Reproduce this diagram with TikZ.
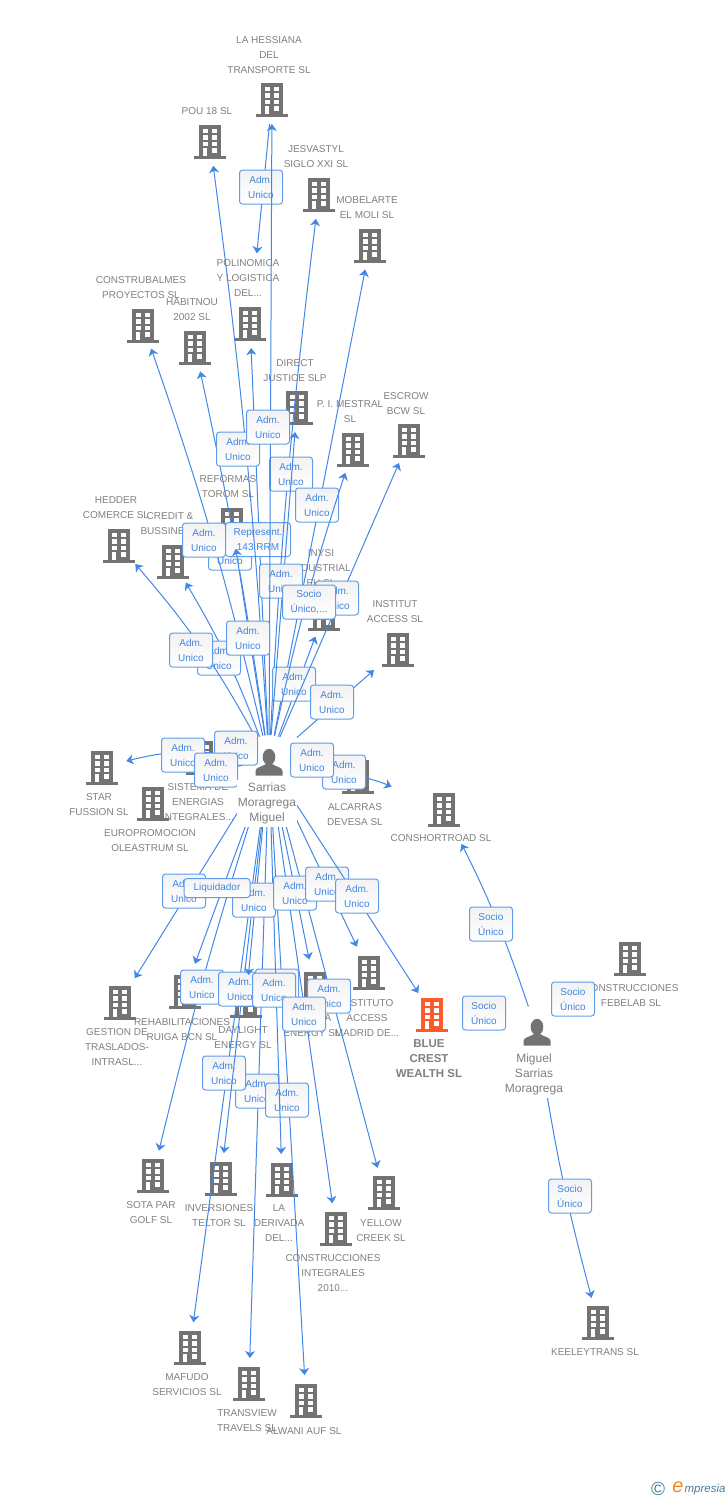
\documentclass[tikz,border=0pt]{standalone}
\usepackage{fontspec}
\setmainfont{Liberation Sans}
\usepackage{tikz}
\usetikzlibrary{arrows.meta}

\definecolor{bldgrey}{HTML}{737373}
\definecolor{txtgrey}{HTML}{808080}
\definecolor{bldorange}{HTML}{FF5A2B}
\definecolor{linkblue}{HTML}{4287E6}
\definecolor{roleblue}{HTML}{3F86E0}
\definecolor{roleedge}{HTML}{5F9DEB}
\definecolor{logoteal}{HTML}{3F7F9A}
\definecolor{logoorange}{HTML}{F08A1D}

\tikzset{
    building/.style={circle, minimum size=50pt, inner sep=0pt, outer sep=0pt, path picture={
        \begin{scope}[shift={(path picture bounding box.center)}]
            \fill[#1] (-11,-16) rectangle (11,15);
            \fill[#1] (-16,15) rectangle (16,18);
            \foreach \wy in {-12,-5.6,1,7.4} {
                \fill[white] (2.3,\wy) rectangle (7.3,\wy+4.4);
            }
            \foreach \wy in {-12,-5.6,1} {
                \fill[white] (-7.3,\wy) rectangle (-2.3,\wy+4.4);
            }
            \fill[white] (-7,7.4) rectangle (-2.6,15);
        \end{scope}
    }},
    building/.default=bldgrey,
    person/.style={circle, minimum size=54pt, inner sep=0pt, outer sep=0pt, path picture={
        \begin{scope}[shift={(path picture bounding box.center)}]
            \fill[bldgrey] (0,-5) ellipse (6.3 and 8.2);
            \fill[bldgrey] (-13.5,13.5) -- (-13.5,9) .. controls (-13.5,5) and (-7,5) .. (-3,2) -- (3,2) .. controls (7,5) and (13.5,5) .. (13.5,9) -- (13.5,13.5) -- cycle;
        \end{scope}
    }},
    company/.style={align=center, text=txtgrey, inner sep=0pt, font=\fontsize{10}{15}\selectfont},
    personname/.style={company, fill=white, inner xsep=1pt, inner ysep=3pt, font=\fontsize{12}{15}\selectfont},
    mainname/.style={company, font=\fontsize{11.5}{15}\selectfont\bfseries},
    role/.style={draw=roleedge, line width=1pt, rounded corners=3pt, top color=black!5, bottom color=white, text=roleblue, align=center, inner sep=0pt, minimum width=43pt, minimum height=34pt, font=\fontsize{10}{15}\selectfont},
    link/.style={draw=linkblue, line width=1pt, -{Stealth[length=7pt,width=10pt,inset=2pt]}},
}

\begin{document}
\begin{tikzpicture}[x=1pt,y=-1pt]
    \useasboundingbox (0,0) rectangle (728,1500);

    \node[company] (hessianatxt) at (269,55) {LA HESSIANA\\DEL\\TRANSPORTE SL};
    \node[company] (poutxt) at (207,111) {POU 18 SL};
    \node[company] (jesvastyltxt) at (316,157) {JESVASTYL\\SIGLO XXI SL};
    \node[company] (mobelartetxt) at (367,208) {MOBELARTE\\EL MOLI SL};
    \node[company] (polinomicatxt) at (248,278) {POLINOMICA\\Y LOGISTICA\\DEL...};
    \node[company] (construbalmestxt) at (141,288) {CONSTRUBALMES\\PROYECTOS SL};
    \node[company] (habitnoutxt) at (192,310) {HABITNOU\\2002 SL};
    \node[company] (directtxt) at (295,371) {DIRECT\\JUSTICE SLP};
    \node[company] (mestraltxt) at (350,412) {P. I. MESTRAL\\SL};
    \node[company] (escrowtxt) at (406,404) {ESCROW\\BCW SL};
    \node[company] (reformastxt) at (228,487) {REFORMAS\\TOROM SL};
    \node[company] (heddertxt) at (116,508) {HEDDER\\COMERCE SL};
    \node[company] (credittxt) at (170,524) {CREDIT \&\\BUSSINES...};
    \node[company] (inysitxt) at (321,568) {INYSI\\INDUSTRIAL\\EH SL};
    \node[company] (instituttxt) at (395,612) {INSTITUT\\ACCESS SL};
    \node[company] (startxt) at (99,805) {STAR\\FUSSION SL};
    \node[company] (sistematxt) at (198,802) {SISTEMA DE\\ENERGIAS\\INTEGRALES...};
    \node[company] (europrotxt) at (150,841) {EUROPROMOCION\\OLEASTRUM SL};
    \node[company] (alcarrastxt) at (355,815) {ALCARRAS\\DEVESA SL};
    \node[company] (conshorttxt) at (441,838) {CONSHORTROAD SL};
    \node[company] (gestiontxt) at (117,1047) {GESTION DE\\TRASLADOS-\\INTRASL...};
    \node[company] (rehabtxt) at (182,1030) {REHABILITACIONES\\RUIGA BCN SL};
    \node[company] (daylighttxt) at (243,1038) {DAYLIGHT\\ENERGY SL};
    \node[company] (aenergytxt) at (312,1026) {\hspace*{32pt}A\\ENERGY SL};
    \node[company] (institutotxt) at (367,1018) {INSTITUTO\\ACCESS\\MADRID DE...};
    \node[company] (febelabtxt) at (631,996) {CONSTRUCCIONES\\FEBELAB SL};
    \node[company] (sotatxt) at (151,1213) {SOTA PAR\\GOLF SL};
    \node[company] (inversionestxt) at (219,1216) {INVERSIONES\\TELTOR SL};
    \node[company] (derivadatxt) at (279,1223) {LA\\DERIVADA\\DEL...};
    \node[company] (yellowtxt) at (381,1231) {YELLOW\\CREEK SL};
    \node[company] (integralestxt) at (333,1273) {CONSTRUCCIONES\\INTEGRALES\\2010...};
    \node[company] (keeleytxt) at (595,1352) {KEELEYTRANS SL};
    \node[company] (mafudotxt) at (187,1385) {MAFUDO\\SERVICIOS SL};
    \node[company] (transviewtxt) at (247,1421) {TRANSVIEW\\TRAVELS SL};
    \node[company] (alwanitxt) at (304,1431) {ALWANI AUF SL};
    \node[mainname] (bluetxt) at (429,1059) {BLUE\\CREST\\WEALTH SL};

    \node[building] (hessiana) at (272,99) {};
    \node[building] (pou) at (210,141) {};
    \node[building] (jesvastyl) at (319,194) {};
    \node[building] (mobelarte) at (370,245) {};
    \node[building] (polinomica) at (250,323) {};
    \node[building] (construbalmes) at (143,325) {};
    \node[building] (habitnou) at (195,347) {};
    \node[building] (direct) at (297,407) {};
    \node[building] (mestral) at (353,449) {};
    \node[building] (escrow) at (409,440) {};
    \node[building] (reformas) at (232,524) {};
    \node[building] (hedder) at (119,545) {};
    \node[building] (credit) at (173,561) {};
    \node[building] (inysi) at (324,613) {};
    \node[building] (institut) at (398,649) {};
    \node[building] (star) at (102,767) {};
    \node[building] (sistema) at (202,757) {};
    \node[building] (europro) at (153,803) {};
    \node[building] (alcarras) at (358,776) {};
    \node[building] (conshort) at (444,809) {};
    \node[building] (gestion) at (120,1002) {};
    \node[building] (rehab) at (185,991) {};
    \node[building] (daylight) at (246,1000) {};
    \node[building] (aenergy) at (315,988) {};
    \node[building] (instituto) at (369,972) {};
    \node[building=bldorange] (blue) at (432,1014) {};
    \node[building] (febelab) at (630,958) {};
    \node[building] (sota) at (153,1175) {};
    \node[building] (inversiones) at (221,1178) {};
    \node[building] (derivada) at (282,1179) {};
    \node[building] (yellow) at (384,1192) {};
    \node[building] (integrales) at (336,1228) {};
    \node[building] (keeley) at (598,1322) {};
    \node[building] (mafudo) at (190,1347) {};
    \node[building] (transview) at (249,1383) {};
    \node[building] (alwani) at (306,1400) {};

    \node[person] (sarrias) at (269,762) {};
    \node[person] (miguel) at (537,1032) {};

    \draw[link, shorten >=45pt] (hessiana) -- (polinomica);
    \node[role] (rhesspol) at (261,187) {Adm.\\Unico};
    \draw[link] (sarrias) to[bend right=2] (habitnou);
    \node[role] (rhabitnou) at (230,553) {Adm.\\Unico};
    \draw[link] (sarrias) to[bend right=3] (construbalmes);
    \node[role] (rconstrubalmes) at (204,540) {Adm.\\Unico};
    \draw[link] (sarrias) -- (polinomica);
    \node[role, minimum width=65pt] (rpolinomica) at (258,539.5) {Represent.\\143 RRM};
    \draw[link] (sarrias) to[bend right=2] (pou);
    \node[role] (rpou) at (238,449) {Adm.\\Unico};
    \draw[link] (sarrias) to[bend left=2] (jesvastyl);
    \node[role] (rjesvastyl) at (291,474) {Adm.\\Unico};
    \draw[link] (sarrias) -- (mobelarte);
    \node[role] (rmobelarte) at (317,505) {Adm.\\Unico};
    \draw[link] (sarrias) -- (inysi);
    \node[role] (rinysi) at (294,684) {Adm.\\Unico};
    \draw[link] (sarrias) -- (direct);
    \node[role] (rdirect) at (281,581) {Adm.\\Unico};
    \draw[link] (sarrias) -- (escrow);
    \node[role] (rescrow) at (337,598) {Adm.\\Unico};
    \draw[link] (sarrias) to[bend left=3] (mestral);
    \node[role, minimum width=53pt] (rmestral) at (309,602) {Socio\\Único,...};
    \draw[link] (sarrias) -- (hessiana);
    \node[role] (rhessiana) at (268,427) {Adm.\\Unico};
    \draw[link] (sarrias) to[bend right=5] (credit);
    \node[role] (rcredit) at (219,658) {Adm.\\Unico};
    \draw[link] (sarrias) to[bend right=6] (hedder);
    \node[role] (rhedder) at (191,650) {Adm.\\Unico};
    \draw[link] (sarrias) -- (reformas);
    \node[role] (rreformas) at (248,638) {Adm.\\Unico};
    \draw[link, shorten <=10pt, shorten >=7pt] (sarrias) -- (institut);
    \node[role] (rinstitut) at (332,702) {Adm.\\Unico};

    \draw[link] (sarrias) to[bend right=12] (star);
    \node[role] (rstar) at (183,755) {Adm.\\Unico};
    \draw[link] (sarrias) to[bend right=12] (sistema);
    \node[role] (rsistema) at (236,748) {Adm.\\Unico};
    \draw[link, shorten >=31pt] (sarrias) to[bend right=12] (europro);
    \node[role] (reuropro) at (216,770) {Adm.\\Unico};
    \draw[link, shorten >=32pt] (sarrias) to[bend left=8] (conshort);
    \node[role] (rconshort) at (344,772) {Adm.\\Unico};
    \draw[link] (sarrias) to[bend left=8] (alcarras);
    \node[role] (ralcarras) at (312,760) {Adm.\\Unico};

    \draw[link] (sarrias) -- (transview);
    \node[role] (rtransview) at (257,1091) {Adm.\\Unico};
    \draw[link] (sarrias) -- (alwani);
    \node[role] (ralwani) at (287,1100) {Adm.\\Unico};
    \draw[link] (sarrias) -- (mafudo);
    \node[role] (rmafudo) at (224,1073) {Adm.\\Unico};
    \draw[link] (sarrias) to[bend right=2] (sota);
    \node[role] (rsota) at (202,987) {Adm.\\Unico};
    \draw[link] (sarrias) -- (inversiones);
    \node[role] (rinversiones) at (240,989) {Adm.\\Unico};
    \node[role] (rhidden) at (277,986) {Adm.\\Unico};
    \draw[link] (sarrias) -- (derivada);
    \node[role] (rderivada) at (274,990) {Adm.\\Unico};
    \draw[link] (sarrias) -- (yellow);
    \node[role] (ryellow) at (329,996) {Adm.\\Unico};
    \draw[link] (sarrias) -- (integrales);
    \node[role] (rintegrales) at (304,1014) {Adm.\\Unico};

    \draw[link, shorten >=3pt] (sarrias) -- (gestion);
    \node[role] (rgestion) at (184,891) {Adm.\\Unico};
    \draw[link] (sarrias) -- (daylight);
    \node[role] (rdaylight) at (254,900) {Adm.\\Unico};
    \draw[link, shorten >=4pt] (sarrias) -- (aenergy);
    \node[role] (raenergy) at (295,893) {Adm.\\Unico};
    \draw[link, shorten >=3pt] (sarrias) -- (instituto);
    \node[role] (rinstituto) at (327,884) {Adm.\\Unico};
    \draw[link] (sarrias) -- (blue);
    \node[role] (rblue) at (357,896) {Adm.\\Unico};
    \draw[link, shorten >=4pt] (sarrias) -- (rehab);
    \node[role, minimum width=66pt, minimum height=19pt] (rrehab) at (217,888) {Liquidador};

    \draw[link, shorten >=14pt] (miguel) to[bend right=4] (conshort);
    \node[role] (rmigconshort) at (491,924) {Socio\\Único};
    \draw[link, shorten <=8pt, shorten >=10pt] (miguel) -- (blue);
    \node[role] (rmigblue) at (484,1013) {Socio\\Único};
    \draw[link, shorten >=26pt] (miguel) -- (febelab);
    \node[role] (rmigfebelab) at (573,999) {Socio\\Único};
    \draw[link] (miguel) to[bend right=3] (keeley);
    \node[role] (rmigkeeley) at (570,1196) {Socio\\Único};

    \node[personname] (sarriastxt) at (267,803.5) {Sarrias\\Moragrega\\Miguel};
    \node[personname] (migueltxt) at (534,1074) {Miguel\\Sarrias\\Moragrega};

    \node[inner sep=0pt, text=logoteal, font=\fontsize{19}{19}\selectfont] (logoc) at (658,1489) {\copyright};
    \node[inner sep=0pt, text=logoteal, font=\fontsize{11.5}{15}\selectfont\itshape] (logotxt) at (705,1490) {mpresia};
    \node[inner sep=0pt, text=logoorange, font=\fontsize{20}{20}\selectfont\itshape] (logoe) at (678,1487) {e};
\end{tikzpicture}
\end{document}
